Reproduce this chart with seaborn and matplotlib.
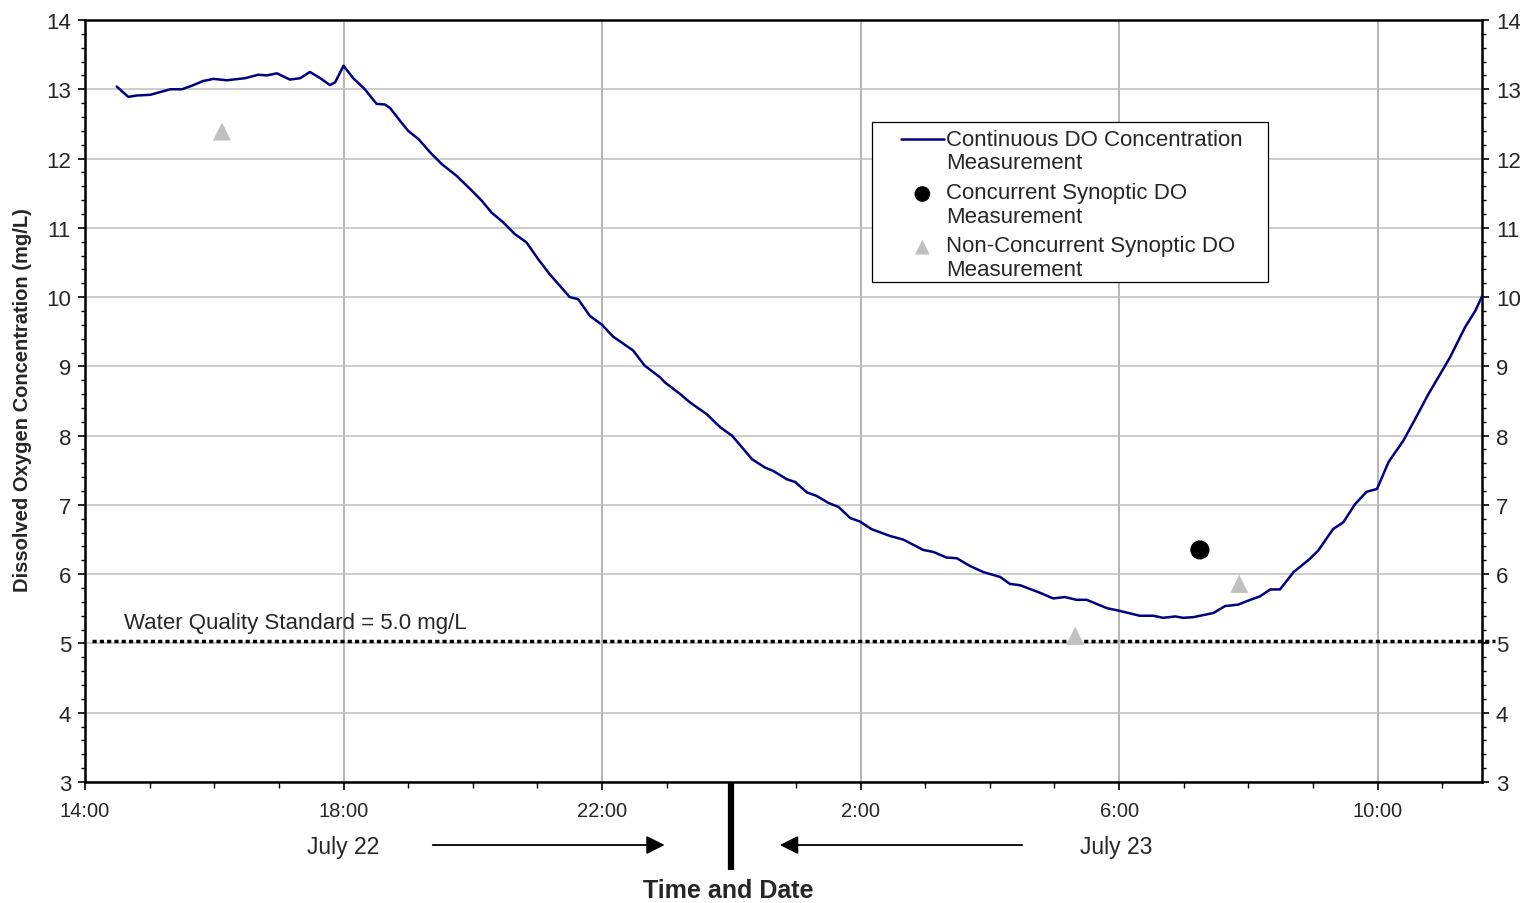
import numpy as np
import pandas as pd
import matplotlib
matplotlib.use("Agg")
import matplotlib.pyplot as plt
import matplotlib.transforms as mtransforms
from matplotlib.patches import Rectangle
from matplotlib.ticker import MultipleLocator, FixedLocator, FixedFormatter
from matplotlib.lines import Line2D
from matplotlib.collections import PathCollection
from matplotlib.legend_handler import HandlerLine2D, HandlerPathCollection
import seaborn as sns

# --- data: hours after 14:00 on July 22, DO in mg/L ---
hours = [0.49, 0.67, 0.80, 1.01, 1.32, 1.50, 1.65, 1.83, 1.99, 2.19, 2.48, 2.68,
         2.81, 2.97, 3.17, 3.33, 3.48, 3.64, 3.79, 3.87, 4.00, 4.15, 4.33, 4.51,
         4.64, 4.72, 4.87, 5.00, 5.16, 5.34, 5.52, 5.75, 5.96, 6.14, 6.29, 6.47,
         6.65, 6.83, 7.01, 7.19, 7.35, 7.50, 7.63, 7.81, 8.00, 8.17, 8.48, 8.66,
         8.90, 8.97, 9.21, 9.36, 9.62, 9.83, 10.01, 10.13, 10.32, 10.52, 10.65,
         10.86, 10.99, 11.17, 11.32, 11.50, 11.66, 11.84, 11.99, 12.17, 12.46,
         12.66, 12.97, 13.13, 13.33, 13.49, 13.69, 13.90, 14.16, 14.31, 14.47,
         14.78, 14.98, 15.16, 15.34, 15.50, 15.81, 16.01, 16.32, 16.53, 16.68,
         16.87, 16.99, 17.15, 17.46, 17.64, 17.84, 18.03, 18.18, 18.34, 18.49,
         18.70, 18.95, 19.08, 19.31, 19.47, 19.65, 19.83, 19.99, 20.17, 20.40,
         20.61, 20.78, 21.12, 21.35, 21.51, 21.61, 21.68]
do_mg_l = [13.04, 12.89, 12.91, 12.92, 13.00, 13.00, 13.05, 13.12, 13.15, 13.13,
           13.16, 13.21, 13.20, 13.23, 13.14, 13.16, 13.25, 13.16, 13.06, 13.10,
           13.34, 13.16, 13.00, 12.79, 12.78, 12.73, 12.55, 12.40, 12.28, 12.09,
           11.92, 11.75, 11.56, 11.39, 11.22, 11.08, 10.91, 10.79, 10.55, 10.33,
           10.16, 10.00, 9.97, 9.73, 9.60, 9.43, 9.23, 9.01, 8.84, 8.77, 8.60,
           8.48, 8.31, 8.12, 8.00, 7.87, 7.66, 7.54, 7.49, 7.37, 7.33, 7.18, 7.13,
           7.03, 6.97, 6.81, 6.76, 6.65, 6.55, 6.50, 6.35, 6.32, 6.24, 6.23, 6.12,
           6.03, 5.96, 5.86, 5.84, 5.73, 5.65, 5.67, 5.63, 5.63, 5.51, 5.47, 5.40,
           5.40, 5.37, 5.39, 5.37, 5.38, 5.44, 5.54, 5.56, 5.63, 5.68, 5.78, 5.78,
           6.03, 6.22, 6.34, 6.65, 6.75, 7.01, 7.19, 7.23, 7.62, 7.93, 8.29, 8.59,
           9.13, 9.56, 9.80, 10.00, 10.11]

concurrent_hours = [17.25]
concurrent_do = [6.35]

nonconcurrent_hours = [2.12, 15.32, 17.86]
nonconcurrent_do = [12.39, 5.11, 5.86]

standard_do = 5.04
x_ticks = [0, 4, 8, 12, 16, 20]
x_labels = ["14:00", "18:00", "22:00", "2:00", "6:00", "10:00"]
midnight = 10
x_end = 21.615

sns.set_theme(style="white")
plt.rcParams["font.family"] = ["Liberation Sans", "DejaVu Sans"]

fig = plt.figure(figsize=(15.2, 9.04), dpi=100)
ax = fig.add_axes([85 / 1520, 1 - 783 / 904, 1397 / 1520, 762 / 904])

sns.lineplot(x=hours, y=do_mg_l, ax=ax, color="#000080", linewidth=1.8,
             label="Continuous DO Concentration\nMeasurement", zorder=3)
sns.scatterplot(x=concurrent_hours, y=concurrent_do, ax=ax, color="black",
                marker="o", s=190, edgecolor="none",
                label="Concurrent Synoptic DO\nMeasurement", zorder=4)
sns.scatterplot(x=nonconcurrent_hours, y=nonconcurrent_do, ax=ax, color="#c0c0c0",
                marker="^", s=170, edgecolor="none",
                label="Non-Concurrent Synoptic DO\nMeasurement", zorder=4)

# water quality standard
ax.plot([0.11, 21.82], [standard_do, standard_do], color="black", linewidth=2.5,
        dashes=(1.2, 0.9), clip_on=False, zorder=2)
ax.text(0.6, 5.30, "Water Quality Standard = 5.0 mg/L", fontsize=16,
        ha="left", va="center")

ax.set_xlim(0, x_end)
ax.set_ylim(3, 14)
ax.xaxis.set_major_locator(FixedLocator(x_ticks))
ax.xaxis.set_major_formatter(FixedFormatter(x_labels))
ax.xaxis.set_minor_locator(MultipleLocator(1))
ax.yaxis.set_major_locator(MultipleLocator(1))
ax.yaxis.set_minor_locator(MultipleLocator(0.2))

ax.grid(axis="y", which="major", color="#c0c0c0", linewidth=1.1)
ax.grid(axis="x", which="major", color="#a0a0a0", linewidth=1.1)
ax.set_axisbelow(True)

ax.tick_params(axis="x", which="both", direction="out", bottom=True, top=False,
               color="black", labelsize=14.5, pad=8)
ax.tick_params(axis="x", which="major", length=6, width=1.2)
ax.tick_params(axis="x", which="minor", length=4, width=1.0)
ax.tick_params(axis="y", which="both", direction="out", left=True, right=True,
               labelleft=True, labelright=True, color="black", labelsize=16, pad=5)
ax.tick_params(axis="y", which="major", length=5, width=1.2)
ax.tick_params(axis="y", which="minor", length=3, width=1.0)

for side in ["left", "right", "top", "bottom"]:
    ax.spines[side].set_color("black")
    ax.spines[side].set_linewidth(1.8)

ax.set_ylabel("Dissolved Oxygen Concentration (mg/L)", fontsize=14.5,
              fontweight="bold", va="center")
ax.yaxis.set_label_coords(-0.0445, 0.503)
ax.set_xlabel("Time and Date", fontsize=18, fontweight="bold")
ax.xaxis.label.set_va("center")
ax.xaxis.set_label_coords(0.4603, -0.1417)

# date annotations under the axis
trans = mtransforms.blended_transform_factory(ax.transData, ax.transAxes)
ax.text(4.0, -0.0853, "July 22", transform=trans, fontsize=16.5, ha="center",
        va="center")
ax.text(15.95, -0.0853, "July 23", transform=trans, fontsize=16.5, ha="center",
        va="center")
arrow_kw = dict(arrowstyle="-|>", color="black", lw=1.3, mutation_scale=28,
                shrinkA=0, shrinkB=0)
ax.annotate("", xy=(8.97, -0.0827), xytext=(5.38, -0.0827), xycoords=trans,
            textcoords=trans, arrowprops=arrow_kw, annotation_clip=False)
ax.annotate("", xy=(10.75, -0.0827), xytext=(14.5, -0.0827), xycoords=trans,
            textcoords=trans, arrowprops=arrow_kw, annotation_clip=False)
ax.plot([midnight, midnight], [0, -0.1155], transform=trans, color="black",
        linewidth=4.5, solid_capstyle="butt", clip_on=False)

# legend with a plain box
leg_left, leg_top = (872 - 85) / 1397, (783 - 123) / 762
leg_w, leg_h = 396 / 1397, 160 / 762
ax.add_patch(Rectangle((leg_left, leg_top - leg_h), leg_w, leg_h,
                       transform=ax.transAxes, facecolor="white",
                       edgecolor="black", linewidth=0.9, zorder=5))
leg = ax.legend(loc="upper left", bbox_to_anchor=(leg_left, leg_top),
                borderaxespad=0, fontsize=16, frameon=False,
                handlelength=2.93, handletextpad=0.1, labelspacing=0.38,
                borderpad=0.3, markerscale=0.82,
                handler_map={Line2D: HandlerLine2D(xpad=1.0),
                             PathCollection: HandlerPathCollection(xpad=1.0)})
leg.set_zorder(6)
for t in leg.get_texts():
    t.set_linespacing(1.17)

# put each legend symbol next to the first line of its label
shift = 8.9  # points
for h in leg.legend_handles:
    if isinstance(h, Line2D):
        h.set_ydata(np.asarray(h.get_ydata()) + shift)
    else:
        h.set_offsets(np.asarray(h.get_offsets()) + [0, shift])

plt.savefig("out.png", dpi=100)
